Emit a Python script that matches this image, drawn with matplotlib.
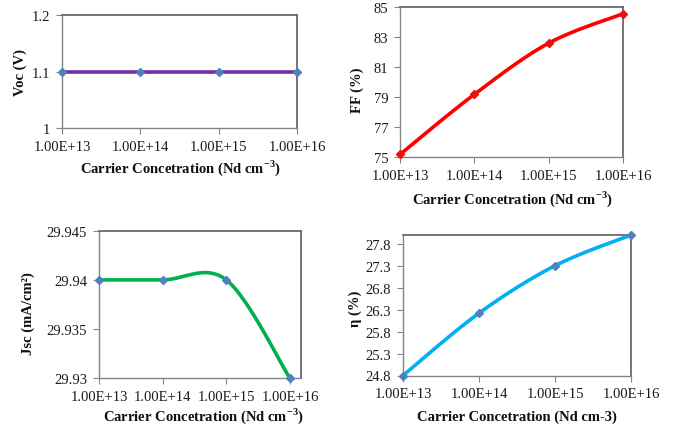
import numpy as np
import matplotlib
matplotlib.use("Agg")
import matplotlib.pyplot as plt

plt.rcParams['font.family'] = ['Liberation Serif', 'DejaVu Serif']
plt.rcParams['mathtext.fontset'] = 'custom'
plt.rcParams['mathtext.rm'] = 'Liberation Serif'
plt.rcParams['mathtext.bf'] = 'Liberation Serif:bold'

# ---- data ----
categories = ["1.00E+13", "1.00E+14", "1.00E+15", "1.00E+16"]
voc = [1.1, 1.1, 1.1, 1.1]
ff = [75.15, 79.17, 82.6, 84.57]
jsc = [29.94, 29.94, 29.94, 29.93]
eta = [24.8, 26.22, 27.3, 28.0]

voc_ticks = [1.0, 1.1, 1.2]
voc_ticklabels = ["1", "1.1", "1.2"]
ff_ticks = [75, 77, 79, 81, 83, 85]
jsc_ticks = [29.93, 29.935, 29.94, 29.945]
jsc_ticklabels = ["29.93", "29.935", "29.94", "29.945"]
eta_ticks = [24.8, 25.3, 25.8, 26.3, 26.8, 27.3, 27.8]


def smooth(xs, ys, n=40):
    """Excel-like smoothed line (Catmull-Rom Bezier) through the points."""
    P = np.column_stack([xs, ys]).astype(float)
    out = []
    m = len(P)
    for i in range(m - 1):
        p0 = P[i - 1] if i > 0 else P[i]
        p1 = P[i]
        p2 = P[i + 1]
        p3 = P[i + 2] if i + 2 < m else P[i + 1]
        c1 = p1 + (p2 - p0) / 6.0
        c2 = p2 - (p3 - p1) / 6.0
        t = np.linspace(0, 1, n)[:, None]
        seg = ((1 - t) ** 3) * p1 + 3 * ((1 - t) ** 2) * t * c1 + 3 * (1 - t) * t ** 2 * c2 + t ** 3 * p2
        out.append(seg if i == 0 else seg[1:])
    arr = np.vstack(out)
    return arr[:, 0], arr[:, 1]


W, H = 673, 431
fig = plt.figure(figsize=(W / 100, H / 100), dpi=100)


def rect(l, r, t, b):
    return [l / W, 1 - b / H, (r - l) / W, (b - t) / H]


def style(ax):
    for s in ['left', 'bottom']:
        ax.spines[s].set_color('#858585')
        ax.spines[s].set_linewidth(1.0)
    for s in ['top', 'right']:
        ax.spines[s].set_color('#5f5f5f')
        ax.spines[s].set_linewidth(1.2)
    ax.tick_params(axis='both', direction='out', length=4, width=0.8,
                   color='#858585', labelsize=10.5, labelcolor='#1a1a1a')
    ax.tick_params(axis='x', pad=4.5)
    ax.tick_params(axis='y', pad=4.5)
    ax.set_xticks(range(len(categories)))
    ax.set_xticklabels(categories)


x = np.arange(len(categories))
xlabel_sup = r'Carrier Concetration (Nd cm$^{\mathbf{-3}}$)'
lab_kw = dict(fontsize=10.5, fontweight='bold', color='#111111', ha='center', va='center')

# Panel 1: Voc
ax1 = fig.add_axes(rect(62, 297, 16.3, 129.3))
ax1.plot(x, voc, color='#7030A0', lw=2.6, zorder=3)
ax1.plot(x, voc, ls='none', marker='D', ms=4.5, color='#4F81BD', clip_on=False, zorder=4)
ax1.set_xlim(0, 3)
ax1.set_ylim(1.0, 1.2)
ax1.set_yticks(voc_ticks)
ax1.set_yticklabels(voc_ticklabels)
style(ax1)
fig.text(180 / W, 1 - 168 / H, xlabel_sup, **lab_kw)
fig.text(20 / W, 1 - 73 / H, 'Voc (V)', rotation=90, **lab_kw)

# Panel 2: FF
ax2 = fig.add_axes(rect(400, 623, 8.3, 157.7))
sx, sy = smooth(x, ff)
ax2.plot(sx, sy, color='#FF0000', lw=2.6, zorder=3)
ax2.plot(x, ff, ls='none', marker='D', ms=4.5, color='#E81010', clip_on=False, zorder=4)
ax2.set_xlim(0, 3)
ax2.set_ylim(75, 85)
ax2.set_yticks(ff_ticks)
style(ax2)
fig.text(512 / W, 1 - 199 / H, xlabel_sup, **lab_kw)
fig.text(357 / W, 1 - 90 / H, 'FF (%)', rotation=90, **lab_kw)

# Panel 3: Jsc
ax3 = fig.add_axes(rect(99, 301, 231.7, 379.3))
sx, sy = smooth(x, jsc)
ax3.plot(sx, sy, color='#00B050', lw=2.6, zorder=3)
ax3.plot(x, jsc, ls='none', marker='D', ms=4.5, color='#4F81BD', clip_on=False, zorder=4)
ax3.set_xlim(0, 3.173)
ax3.set_ylim(29.93, 29.945)
ax3.set_yticks(jsc_ticks)
ax3.set_yticklabels(jsc_ticklabels)
style(ax3)
fig.text(203 / W, 1 - 416 / H, xlabel_sup, **lab_kw)
fig.text(28 / W, 1 - 314 / H, 'Jsc (mA/cm²)', rotation=90, **lab_kw)

# Panel 4: efficiency
ax4 = fig.add_axes(rect(403, 631, 236, 376.5))
sx, sy = smooth(x, eta)
ax4.plot(sx, sy, color='#00B0F0', lw=2.6, zorder=3)
ax4.plot(x, eta, ls='none', marker='D', ms=4.5, color='#4F81BD', clip_on=False, zorder=4)
ax4.set_xlim(0, 3)
ax4.set_ylim(24.8, 28.0)
ax4.set_yticks(eta_ticks)
style(ax4)
fig.text(517 / W, 1 - 417 / H, 'Carrier Concetration (Nd cm-3)', **lab_kw)
fig.text(355 / W, 1 - 309 / H, 'η (%)', rotation=90, **lab_kw)

fig.savefig('out.png', dpi=100)
